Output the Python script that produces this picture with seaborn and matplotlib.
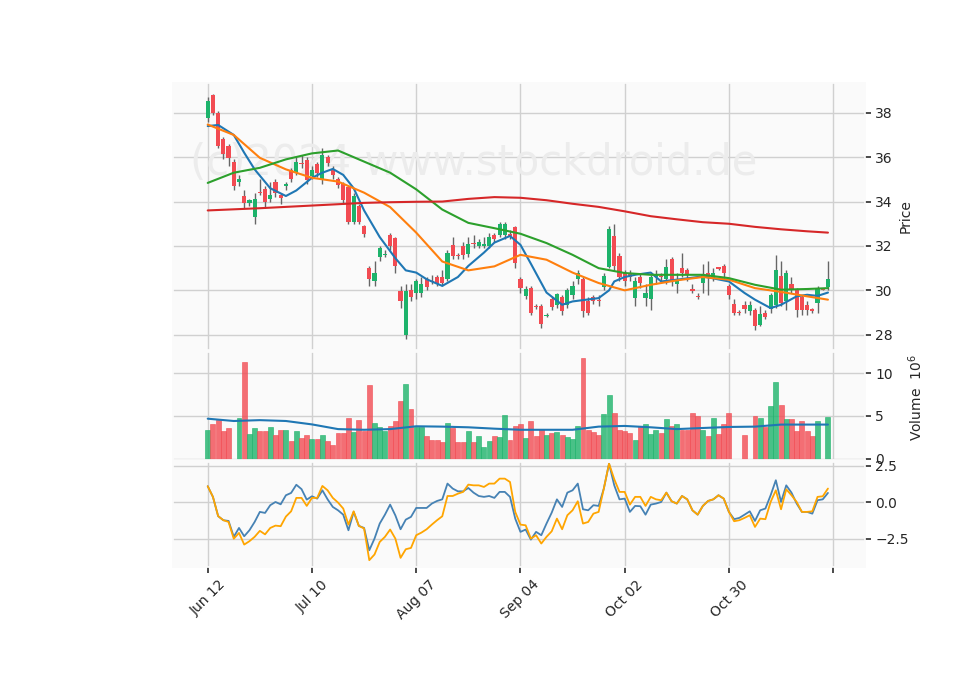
import numpy as np
import pandas as pd
import matplotlib
matplotlib.use('Agg')
import matplotlib.pyplot as plt
import seaborn as sns

# trading days, index 0 = Jun 12 2017
dates = pd.bdate_range('2017-06-12', periods=120)
tick_idx = [0, 20, 40, 60, 80, 100, 120]
tick_labels = ['Jun 12', 'Jul 10', 'Aug 07', 'Sep 04', 'Oct 02', 'Oct 30', '']

opens = [37.77, 38.78, 38.0, 36.83, 36.5, 35.8, 34.9, 34.27, 33.95, 33.3,
         34.42, 34.55, 34.1, 34.9, 34.3, 34.7, 35.4, 35.3, 35.72, 35.85,
         35.15, 35.67, 35.0, 36.0, 35.45, 35.0, 34.8, 34.65, 33.1, 33.8,
         32.9, 31.0, 30.4, 31.5, 31.58, 32.5, 32.35, 29.95, 28.0, 30.0,
         29.9, 29.9, 30.5, 30.42, 30.6, 30.6, 30.5, 32.05, 31.57, 32.0,
         31.65, 32.12, 32.0, 32.0, 32.0, 32.5, 32.5, 32.5, 32.55, 32.85,
         30.5, 29.75, 30.1, 29.3, 29.3, 28.85, 29.6, 29.35, 29.7, 29.35,
         29.8, 30.5, 30.5, 29.5, 29.7, 29.55, 30.15, 31.05, 32.45, 31.55,
         30.8, 30.8, 29.65, 30.6, 29.65, 29.6, 30.6, 30.62, 30.5, 31.4,
         30.3, 31.0, 30.9, 30.05, 29.75, 30.35, 30.8, 30.5, 31.02, 31.1,
         30.2, 29.4, 29.02, 29.35, 29.05, 29.1, 28.45, 29.0, 29.15, 29.35,
         30.65, 29.5, 30.3, 30.05, 29.7, 29.35, 29.12, 29.45, 30.07, 30.15]
closes = [38.53, 38.0, 36.5, 36.12, 35.97, 34.7, 35.0, 33.94, 34.05, 34.1,
          34.38, 33.97, 34.3, 34.4, 34.15, 34.8, 35.0, 35.8, 35.68, 34.95,
          35.4, 35.3, 36.1, 35.75, 35.2, 34.75, 34.05, 33.1, 34.25, 33.07,
          32.55, 30.5, 30.8, 31.9, 31.62, 32.0, 31.1, 29.5, 29.95, 29.7,
          30.4, 30.3, 30.15, 30.38, 30.3, 30.35, 31.7, 31.55, 31.53, 31.6,
          32.1, 32.08, 32.2, 32.1, 32.4, 32.3, 33.0, 33.0, 32.45, 31.25,
          30.1, 30.05, 29.0, 29.25, 28.5, 28.9, 29.25, 29.85, 29.05, 30.0,
          30.2, 30.8, 29.05, 29.0, 29.5, 29.5, 30.65, 32.75, 31.1, 30.6,
          30.4, 30.6, 30.4, 30.35, 29.9, 30.6, 30.7, 30.58, 31.05, 30.4,
          30.5, 30.8, 30.75, 29.95, 29.7, 30.75, 30.6, 30.8, 30.98, 30.8,
          29.8, 29.0, 28.98, 29.15, 29.35, 28.4, 28.95, 28.8, 29.8, 30.9,
          29.45, 30.8, 30.0, 29.1, 29.1, 29.1, 29.08, 30.05, 30.03, 30.5]
highs = [38.7, 38.85, 38.1, 36.9, 36.6, 35.9, 35.2, 34.5, 34.1, 34.4,
         35.0, 34.7, 34.9, 35.0, 34.4, 34.9, 35.5, 36.0, 36.1, 36.0,
         35.6, 35.8, 36.4, 36.1, 35.6, 35.1, 34.9, 34.7, 34.4, 33.9,
         32.95, 31.1, 31.3, 32.0, 31.8, 32.6, 32.4, 30.2, 30.3, 30.3,
         30.5, 30.6, 30.6, 30.7, 30.7, 30.9, 31.8, 32.4, 31.7, 32.2,
         32.4, 32.5, 32.3, 32.4, 32.6, 32.6, 33.1, 33.1, 32.7, 32.9,
         30.6, 30.2, 30.2, 29.4, 29.4, 29.0, 29.7, 29.9, 29.8, 30.1,
         30.4, 30.9, 30.6, 29.7, 29.8, 29.8, 30.8, 32.9, 33.0, 31.7,
         30.9, 30.9, 30.6, 30.8, 30.3, 30.7, 30.9, 30.8, 31.4, 31.5,
         30.8, 31.7, 31.0, 30.3, 29.9, 31.2, 31.3, 31.0, 31.0, 31.2,
         30.3, 29.6, 29.1, 29.5, 29.5, 29.2, 29.3, 29.1, 29.9, 31.6,
         31.3, 30.9, 30.6, 30.1, 29.8, 29.5, 29.2, 30.2, 30.1, 31.3]
lows = [37.6, 37.9, 36.4, 35.9, 35.6, 34.5, 34.7, 33.7, 33.8, 33.0,
        34.3, 33.7, 34.0, 34.2, 33.9, 34.5, 34.9, 35.2, 35.5, 34.8,
        35.0, 35.1, 34.8, 35.6, 35.0, 34.6, 33.9, 33.0, 33.0, 33.0,
        32.4, 30.2, 30.2, 31.3, 31.5, 31.8, 30.8, 29.2, 27.8, 29.5,
        29.6, 29.7, 30.0, 30.3, 30.2, 30.2, 30.4, 31.4, 31.4, 31.4,
        31.5, 31.9, 31.9, 31.9, 31.9, 32.2, 32.4, 32.3, 32.3, 31.0,
        29.9, 29.6, 28.9, 29.15, 28.3, 28.8, 29.1, 29.2, 28.9, 29.2,
        29.6, 30.3, 28.8, 28.9, 29.4, 29.3, 30.0, 31.0, 30.9, 30.4,
        30.2, 30.4, 29.3, 30.1, 29.3, 29.1, 30.3, 30.4, 30.3, 30.2,
        29.9, 30.6, 30.4, 29.9, 29.6, 29.9, 29.8, 30.4, 30.9, 30.5,
        29.6, 28.9, 28.9, 29.0, 28.9, 28.2, 28.4, 28.7, 29.0, 29.2,
        29.3, 29.1, 29.9, 28.8, 28.9, 28.9, 29.0, 29.0, 30.0, 30.0]

volume = [3.4, 4.1, 4.5, 3.25, 3.6, np.nan, 4.7, 11.3, 2.9, 3.6,
          3.25, 3.25, 3.75, 2.75, 3.4, 3.4, 2.0, 3.25, 2.4, 2.75,
          2.3, 2.3, 2.75, 2.0, 1.55, 3.0, 3.0, 4.7, 3.1, 4.5,
          3.25, 8.6, 4.2, 3.75, 3.25, 3.85, 4.35, 6.8, 8.75, 5.8,
          3.75, 3.75, 2.65, 2.15, 2.15, 1.9, 4.2, 3.6, 1.9, 1.9,
          3.25, 1.9, 2.65, 1.4, 2.0, 2.65, 2.5, 5.1, 2.15, 3.85,
          4.1, 2.4, 4.35, 2.65, 3.5, 2.75, 3.0, 3.1, 2.75, 2.5,
          2.3, 3.85, 11.8, 3.4, 3.1, 2.75, 5.2, 7.4, 5.3, 3.4,
          3.25, 3.0, 2.15, 3.85, 4.0, 2.9, 3.4, 3.0, 4.6, 3.85,
          4.0, 3.4, 3.4, 5.3, 4.95, 3.4, 2.65, 4.7, 2.9, 4.0,
          5.3, np.nan, np.nan, 2.75, np.nan, 4.95, 4.7, 3.75, 6.2, 9.0,
          6.3, 4.6, 4.6, 3.25, 4.35, 3.25, 2.65, 4.35, np.nan, 4.85]

# fast moving average, read at selected bars
fast_idx = [0, 2, 5, 7, 9, 12, 15, 17, 20, 22, 24, 26, 28, 30, 33, 36, 38,
            40, 42, 45, 48, 50, 53, 55, 58, 60, 62, 65, 68, 70, 75, 77, 78,
            80, 82, 85, 87, 90, 95, 100, 103, 105, 108, 110, 113, 115, 117, 119]
ma_fast = [37.4, 37.45, 37.0, 36.2, 35.45, 34.6, 34.25, 34.5, 35.07, 35.3,
           35.47, 35.2, 34.6, 33.6, 32.4, 31.45, 30.9, 30.8, 30.5, 30.2,
           30.6, 31.1, 31.7, 32.15, 32.45, 32.05, 31.2, 29.9, 29.35, 29.5,
           29.65, 30.0, 30.4, 30.6, 30.7, 30.8, 30.4, 30.48, 30.63, 30.4,
           29.88, 29.58, 29.2, 29.35, 29.73, 29.8, 29.75, 29.9]

# slower moving averages, read every 5 bars
ma_idx = [0, 5, 10, 15, 20, 25, 30, 35, 40, 45, 50, 55, 60, 65, 70, 75,
          80, 85, 90, 95, 100, 105, 110, 115, 119]
ma_mid = [37.47, 37.0, 35.97, 35.45, 35.07, 34.9, 34.4, 33.75, 32.6, 31.3,
          30.9, 31.08, 31.6, 31.38, 30.8, 30.33, 30.0, 30.25, 30.45, 30.6,
          30.48, 30.1, 29.93, 29.73, 29.58]
ma_slow = [34.84, 35.3, 35.52, 35.9, 36.17, 36.3, 35.8, 35.3, 34.55, 33.64,
           33.04, 32.8, 32.55, 32.13, 31.6, 31.0, 30.78, 30.7, 30.7, 30.7,
           30.55, 30.25, 30.03, 30.06, 30.1]
ma_long = [33.6, 33.65, 33.7, 33.76, 33.82, 33.88, 33.94, 33.97, 33.99, 34.0,
           34.12, 34.2, 34.17, 34.06, 33.9, 33.76, 33.56, 33.34, 33.2, 33.07,
           33.0, 32.86, 32.75, 32.66, 32.6]
vol_ma = [4.67, 4.4, 4.5, 4.4, 4.0, 3.45, 3.37, 3.45, 3.78, 3.74,
          3.66, 3.5, 3.37, 3.37, 3.37, 3.74, 3.82, 3.66, 3.45, 3.58,
          3.7, 3.74, 3.98, 3.98, 3.98]

osc_a = [1.1, 0.37, -0.95, -1.23, -1.28, -2.37, -1.76, -2.33, -1.92, -1.35,
         -0.66, -0.73, -0.2, 0.02, -0.14, 0.48, 0.64, 1.2, 0.9, 0.18,
         0.41, 0.25, 0.82, 0.2, -0.32, -0.55, -0.85, -1.92, -0.66, -1.62,
         -1.76, -3.29, -2.49, -1.46, -0.85, -0.16, -0.9, -1.85, -1.19, -1.0,
         -0.39, -0.39, -0.39, -0.09, 0.09, 0.2, 1.28, 0.94, 0.75, 0.75,
         0.98, 0.66, 0.43, 0.37, 0.43, 0.3, 0.71, 0.71, 0.37, -1.12,
         -2.03, -1.87, -2.56, -2.03, -2.26, -1.46, -0.71, 0.2, -0.32, 0.66,
         0.82, 1.28, -0.48, -0.55, -0.2, -0.25, 0.94, 2.65, 1.16, 0.2,
         0.25, -0.66, -0.25, -0.27, -0.85, -0.16, -0.09, 0.02, 0.66, 0.07,
         -0.09, 0.43, 0.2, -0.55, -0.85, -0.25, 0.09, 0.2, 0.48, 0.25,
         -0.66, -1.16, -1.07, -0.85, -0.62, -1.28, -0.55, -0.43, 0.48, 1.51,
         0.02, 1.16, 0.66, -0.09, -0.66, -0.66, -0.78, 0.14, 0.2, 0.64]
osc_b = [1.1, 0.37, -0.95, -1.23, -1.35, -2.5, -2.1, -2.9, -2.67, -2.37,
         -1.96, -2.2, -1.76, -1.6, -1.64, -0.98, -0.62, 0.3, 0.3, -0.25,
         0.3, 0.3, 1.12, 0.82, 0.3, -0.02, -0.43, -1.53, -0.62, -1.62,
         -1.8, -3.97, -3.58, -2.72, -2.37, -1.87, -2.49, -3.81, -3.22, -3.13,
         -2.26, -2.08, -1.85, -1.53, -1.23, -0.96, 0.43, 0.43, 0.59, 0.71,
         1.21, 1.16, 1.16, 1.05, 1.28, 1.28, 1.62, 1.62, 1.39, -0.66,
         -1.53, -1.58, -2.49, -2.26, -2.83, -2.37, -1.99, -1.12, -1.85, -0.89,
         -0.55, 0.07, -1.46, -1.35, -0.78, -0.66, 0.94, 2.65, 1.58, 0.71,
         0.71, -0.16, 0.37, 0.37, -0.25, 0.37, 0.2, 0.14, 0.66, 0.07,
         -0.09, 0.43, 0.2, -0.55, -0.85, -0.25, 0.09, 0.2, 0.48, 0.25,
         -0.66, -1.3, -1.23, -1.07, -0.89, -1.69, -1.12, -1.16, 0.02, 0.82,
         -0.48, 0.89, 0.48, 0.02, -0.66, -0.66, -0.62, 0.37, 0.41, 0.94]

df = pd.DataFrame({'date': dates, 'open': opens, 'close': closes,
                   'high': highs, 'low': lows, 'volume': volume,
                   'osc_a': osc_a, 'osc_b': osc_b})
df['i'] = np.arange(len(df))
ma = pd.DataFrame({'i': ma_idx, 'mid': ma_mid, 'slow': ma_slow,
                   'long': ma_long, 'vol': vol_ma})
fast = pd.DataFrame({'i': fast_idx, 'fast': ma_fast})

UP = '#1db36b'
DOWN = '#f24b52'
sns.set_theme(style='whitegrid', rc={'axes.facecolor': '#fafafa',
                                     'grid.color': '#d0d0d0',
                                     'axes.edgecolor': '#fafafa'})

fig = plt.figure(figsize=(9.6, 6.9), dpi=100)
ax1 = fig.add_axes([0.180, 0.493, 0.721, 0.387])
ax2 = fig.add_axes([0.180, 0.333, 0.721, 0.157], sharex=ax1)
ax3 = fig.add_axes([0.180, 0.178, 0.721, 0.152], sharex=ax1)

up = df['close'] >= df['open']
colors = np.where(up, UP, DOWN)

# candles
ax1.vlines(df['i'], df['low'], df['high'], color='#666666', lw=1, zorder=2)
ax1.bar(df['i'], (df['close'] - df['open']).abs().clip(lower=0.06),
        bottom=np.minimum(df['open'], df['close']), width=0.8,
        color=colors, lw=0, zorder=3)
sns.lineplot(data=fast, x='i', y='fast', ax=ax1, color='#1f77b4', lw=1.5, zorder=4)
for col, c in [('mid', '#ff7f0e'), ('slow', '#2ca02c'), ('long', '#d62728')]:
    sns.lineplot(data=ma, x='i', y=col, ax=ax1, color=c, lw=1.5, zorder=4)
ax1.text(0.435, 0.70, '(c)2024 www.stockdroid.de', transform=ax1.transAxes,
         ha='center', va='center', fontsize=30, color='#ececec', zorder=1)
ax1.set_ylim(27.32, 39.35)
ax1.set_yticks([28, 30, 32, 34, 36, 38])
ax1.set_ylabel('Price', fontsize=10)

# volume
ax2.bar(df['i'], df['volume'], width=0.95, color=colors, alpha=0.8,
        edgecolor=colors, lw=0.5, zorder=2)
sns.lineplot(data=ma, x='i', y='vol', ax=ax2, color='#1f77b4', lw=1.5, zorder=3)
ax2.set_ylim(-0.2, 12.5)
ax2.set_yticks([0, 5, 10])
ax2.set_ylabel('Volume  $10^6$', fontsize=10)

# oscillator
sns.lineplot(data=df, x='i', y='osc_a', ax=ax3, color='steelblue', lw=1.3)
sns.lineplot(data=df, x='i', y='osc_b', ax=ax3, color='orange', lw=1.3)
ax3.set_ylim(-4.45, 2.74)
ax3.set_yticks([-2.5, 0.0, 2.5])
ax3.set_ylabel('')

for ax in (ax1, ax2, ax3):
    ax.yaxis.tick_right()
    ax.tick_params(axis='y', labelsize=10, length=4, right=True, color='#333333')
    ax.set_xlabel('')
    ax.set_xlim(-6.7, 126.1)
    ax.set_xticks(tick_idx)
ax1.yaxis.set_label_position('right')
ax2.yaxis.set_label_position('right')
ax2.yaxis.set_label_coords(1.06, 0.58)
for ax in (ax1, ax2):
    ax.tick_params(axis='x', labelbottom=False, bottom=False)
ax3.set_xticklabels(tick_labels, rotation=45, fontsize=10)
ax3.tick_params(axis='x', bottom=True, length=4, color='#333333')

fig.savefig('out.png', dpi=100)
